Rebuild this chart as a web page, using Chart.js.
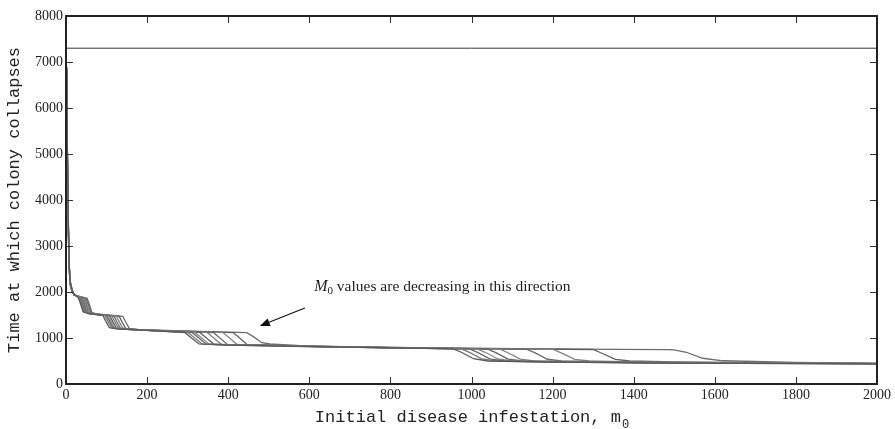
<!DOCTYPE html>
<html>
<head>
<meta charset="utf-8">
<script src="https://cdn.jsdelivr.net/npm/chart.js@4"></script>
<style>
  html, body { margin: 0; padding: 0; background: #fff; }
  #wrap { width: 895px; height: 429px; position: relative; }
</style>
</head>
<body>
<div id="wrap"><canvas id="c" width="895" height="429"></canvas></div>
<script>
// ---- Data ----
const xTicks = [0, 200, 400, 600, 800, 1000, 1200, 1400, 1600, 1800, 2000];
const yTicks = [0, 1000, 2000, 3000, 4000, 5000, 6000, 7000, 8000];
const referenceLine = [[0, 7300], [2000, 7300]];

const curve0 = [[0,6900],[2,6100],[4,4700],[6,3400],[8,2600],[10,2250],[15,2050],[20,1950],[30,1880],[36,1740],[42,1570],[55,1530],[91,1490],[99,1350],[107,1225],[125,1200],[200,1165],[293,1120],[308,1010],[328,870],[400,845],[500,830],[600,812],[800,785],[955,765],[975,690],[1005,550],[1040,500],[1200,475],[1500,455],[2000,438]];
const curve1 = [[0,6880],[2,6080],[4,4680],[6,3380],[8,2590],[10,2240],[15,2045],[20,1948],[32,1878],[38,1740],[44,1568],[57,1530],[96,1488],[104,1350],[112,1224],[130,1198],[200,1166],[301,1120],[316,1010],[336,868],[400,848],[500,832],[600,814],[800,786],[975,764],[995,688],[1025,548],[1060,500],[1200,477],[1500,456],[2000,440]];
const curve2 = [[0,6860],[2,6060],[4,4660],[6,3360],[8,2580],[10,2230],[15,2040],[20,1946],[34,1876],[40,1738],[46,1566],[59,1528],[100,1486],[108,1350],[116,1222],[134,1196],[200,1167],[311,1121],[326,1010],[346,866],[400,850],[500,834],[600,816],[800,787],[995,762],[1015,686],[1045,546],[1080,500],[1200,479],[1500,457],[2000,441]];
const curve3 = [[0,6840],[2,6040],[4,4640],[6,3340],[8,2570],[10,2220],[15,2035],[20,1944],[36,1874],[42,1736],[48,1564],[61,1527],[104,1484],[112,1348],[120,1220],[138,1195],[200,1168],[318,1122],[333,1010],[353,865],[400,852],[500,836],[600,817],[800,788],[1015,760],[1035,684],[1065,544],[1100,500],[1200,481],[1500,458],[2000,442]];
const curve4 = [[0,6820],[2,6020],[4,4620],[6,3320],[8,2560],[10,2210],[15,2030],[20,1942],[38,1872],[44,1734],[50,1562],[63,1526],[108,1482],[116,1346],[124,1218],[142,1194],[200,1169],[330,1122],[345,1010],[365,864],[400,854],[500,838],[600,818],[800,789],[1040,758],[1060,682],[1090,542],[1125,500],[1250,480],[1500,459],[2000,443]];
const curve5 = [[0,6800],[2,6000],[4,4600],[6,3300],[8,2550],[10,2200],[15,2025],[20,1940],[40,1870],[46,1732],[52,1560],[65,1525],[113,1480],[121,1344],[129,1216],[147,1193],[200,1170],[348,1121],[363,1010],[383,862],[450,852],[500,840],[600,820],[800,790],[1070,756],[1090,680],[1120,540],[1155,500],[1300,480],[1500,460],[2000,444]];
const curve6 = [[0,6780],[2,5980],[4,4580],[6,3280],[8,2540],[10,2190],[15,2020],[20,1938],[43,1868],[49,1730],[55,1558],[68,1524],[118,1478],[126,1342],[134,1214],[152,1192],[200,1171],[363,1120],[378,1010],[398,860],[450,853],[500,842],[600,821],[800,791],[1137,754],[1157,678],[1187,538],[1222,500],[1350,481],[1600,461],[2000,445]];
const curve7 = [[0,6760],[2,5960],[4,4560],[6,3260],[8,2530],[10,2180],[15,2015],[20,1936],[46,1866],[52,1728],[58,1556],[71,1523],[124,1476],[132,1340],[140,1212],[158,1191],[200,1172],[387,1119],[402,1010],[422,858],[470,852],[500,844],[600,822],[800,792],[1201,752],[1221,676],[1255,536],[1290,500],[1400,482],[1600,462],[2000,446]];
const curve8 = [[0,6740],[2,5940],[4,4540],[6,3240],[8,2520],[10,2170],[15,2010],[20,1934],[49,1864],[55,1726],[61,1554],[74,1522],[131,1474],[139,1338],[147,1210],[165,1190],[200,1173],[412,1118],[427,1010],[447,856],[500,846],[600,823],[800,793],[1300,750],[1320,674],[1355,534],[1390,500],[1500,483],[1700,463],[2000,447]];
const curve9 = [[0,6720],[2,5920],[4,4520],[6,3220],[8,2510],[10,2160],[15,2005],[20,1932],[52,1862],[58,1724],[64,1552],[77,1521],[140,1472],[148,1336],[156,1208],[174,1189],[200,1174],[446,1117],[462,1030],[483,898],[503,870],[600,825],[800,794],[1000,768],[1482,748],[1500,740],[1530,690],[1570,560],[1620,505],[1800,472],[2000,448]];

const curves = [curve0, curve1, curve2, curve3, curve4, curve5, curve6, curve7, curve8, curve9];
const curveColors = ['#5a5a5a','#7a7a7a','#666666','#888888','#606060','#808080','#6a6a6a','#848484','#5e5e5e','#6c6c6c'];

const annotation = { text: ' values are decreasing in this direction', textX: 612, textY: 2130, tailX: 589, tailY: 1652, headX: 478, headY: 1261 };

// ---- Chart ----
const toXY = arr => arr.map(p => ({ x: p[0], y: p[1] }));
const datasets = curves.map((c, i) => ({
  data: toXY(c), borderColor: curveColors[i], borderWidth: 1.3, pointRadius: 0, showLine: true, tension: 0
}));
datasets.push({ data: toXY(referenceLine), borderColor: '#333', borderWidth: 1, pointRadius: 0, showLine: true });

const TICK_FONT = { family: '"Liberation Serif", "Times New Roman", serif', size: 14 };
const MONO = '17px "Liberation Mono", "Courier New", monospace';

const framePlugin = {
  id: 'frame',
  afterDraw(chart) {
    const { ctx, chartArea: a, scales } = chart;
    const xs = scales.x, ys = scales.y;
    ctx.save();
    // inner ticks
    ctx.strokeStyle = '#333';
    ctx.lineWidth = 1;
    const tl = 7;
    ctx.beginPath();
    xTicks.forEach(v => {
      const px = Math.round(xs.getPixelForValue(v)) + 0.5;
      ctx.moveTo(px, a.bottom); ctx.lineTo(px, a.bottom - tl);
      ctx.moveTo(px, a.top); ctx.lineTo(px, a.top + tl);
    });
    yTicks.forEach(v => {
      const py = Math.round(ys.getPixelForValue(v)) + 0.5;
      ctx.moveTo(a.left, py); ctx.lineTo(a.left + tl, py);
      ctx.moveTo(a.right, py); ctx.lineTo(a.right - tl, py);
    });
    ctx.stroke();
    // box
    ctx.strokeStyle = '#222';
    ctx.lineWidth = 2;
    ctx.strokeRect(a.left, a.top, a.right - a.left, a.bottom - a.top);

    // axis titles
    ctx.fillStyle = '#222';
    ctx.font = MONO;
    ctx.textBaseline = 'alphabetic';
    const xt = 'Initial disease infestation, m';
    const wMain = ctx.measureText(xt).width;
    ctx.font = '12px "Liberation Mono", monospace';
    const wSub = ctx.measureText('0').width;
    const cx = (a.left + a.right) / 2;
    const startX = cx - (wMain + wSub) / 2;
    ctx.font = MONO;
    ctx.textAlign = 'left';
    ctx.fillText(xt, startX, 422);
    ctx.font = '12px "Liberation Mono", monospace';
    ctx.fillText('0', startX + wMain + 1, 428);

    ctx.save();
    ctx.translate(19, (a.top + a.bottom) / 2);
    ctx.rotate(-Math.PI / 2);
    ctx.font = MONO;
    ctx.textAlign = 'center';
    ctx.fillText('Time at which colony collapses', 0, 0);
    ctx.restore();

    // annotation
    const tx = xs.getPixelForValue(annotation.textX), ty = ys.getPixelForValue(annotation.textY);
    ctx.textAlign = 'left';
    ctx.textBaseline = 'alphabetic';
    ctx.fillStyle = '#222';
    ctx.font = 'italic 16px "Liberation Serif", serif';
    ctx.fillText('M', tx, ty + 5);
    const mw = ctx.measureText('M').width;
    ctx.font = '11px "Liberation Serif", serif';
    ctx.fillText('0', tx + mw, ty + 8);
    const zw = ctx.measureText('0').width;
    ctx.font = '15.5px "Liberation Serif", serif';
    ctx.fillText(annotation.text, tx + mw + zw, ty + 5);

    const x1 = xs.getPixelForValue(annotation.tailX), y1 = ys.getPixelForValue(annotation.tailY);
    const x2 = xs.getPixelForValue(annotation.headX), y2 = ys.getPixelForValue(annotation.headY);
    const ang = Math.atan2(y2 - y1, x2 - x1);
    const hl = 10, hw = 4;
    const bx = x2 - hl * Math.cos(ang), by = y2 - hl * Math.sin(ang);
    ctx.strokeStyle = '#111';
    ctx.lineWidth = 1.2;
    ctx.beginPath(); ctx.moveTo(x1, y1); ctx.lineTo(bx, by); ctx.stroke();
    ctx.fillStyle = '#111';
    ctx.beginPath();
    ctx.moveTo(x2, y2);
    ctx.lineTo(bx + hw * Math.sin(ang), by - hw * Math.cos(ang));
    ctx.lineTo(bx - hw * Math.sin(ang), by + hw * Math.cos(ang));
    ctx.closePath(); ctx.fill();
    ctx.restore();
  }
};

new Chart(document.getElementById('c'), {
  type: 'scatter',
  data: { datasets },
  options: {
    responsive: false,
    animation: false,
    layout: { padding: { top: 16, right: 18, left: 0, bottom: 0 } },
    plugins: { legend: { display: false }, tooltip: { enabled: false } },
    elements: { line: { tension: 0 } },
    scales: {
      x: {
        type: 'linear', min: 0, max: 2000,
        afterBuildTicks: s => { s.ticks = xTicks.map(v => ({ value: v })); },
        grid: { display: false, drawTicks: false },
        border: { display: false },
        ticks: { font: TICK_FONT, color: '#222', padding: 3, maxRotation: 0, autoSkip: false, callback: v => String(v) },
        afterFit: s => { s.height = 45; }
      },
      y: {
        type: 'linear', min: 0, max: 8000,
        afterBuildTicks: s => { s.ticks = yTicks.map(v => ({ value: v })); },
        grid: { display: false, drawTicks: false },
        border: { display: false },
        ticks: { font: TICK_FONT, color: '#222', padding: 3, autoSkip: false, callback: v => String(v) },
        afterFit: s => { s.width = 66; }
      }
    }
  },
  plugins: [framePlugin]
});
</script>
</body>
</html>
